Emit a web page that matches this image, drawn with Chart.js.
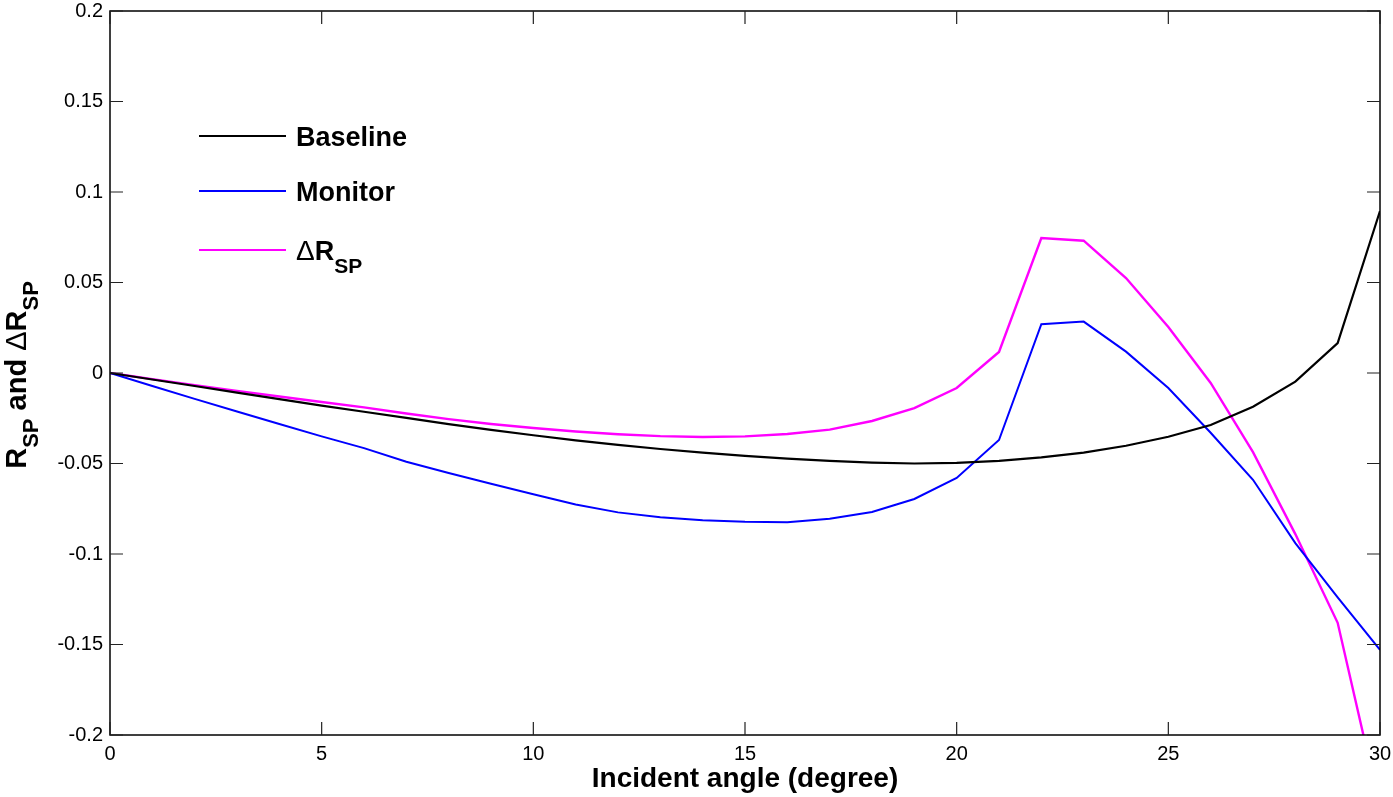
<!DOCTYPE html>
<html>
<head>
<meta charset="utf-8">
<script src="https://cdn.jsdelivr.net/npm/chart.js@4.4.0/dist/chart.umd.min.js"></script>
<style>
  html, body { margin: 0; padding: 0; background: #fff; }
</style>
</head>
<body>
<canvas id="chartSP" width="1393" height="797"></canvas>
<script>
// incident angle in degrees, one sample per degree
const angles = [0,1,2,3,4,5,6,7,8,9,10,11,12,13,14,15,16,17,18,19,20,21,22,23,24,25,26,27,28,29,30];

const baseline = [0,-0.0036,-0.0072,-0.0108,-0.0144,-0.0180,-0.0214,-0.0248,-0.0282,-0.0314,-0.0344,
  -0.0372,-0.0397,-0.0420,-0.0440,-0.0458,-0.0473,-0.0486,-0.0495,-0.0500,-0.0496,
  -0.0486,-0.0466,-0.0440,-0.0402,-0.0352,-0.0287,-0.0186,-0.0048,0.0165,0.0895];

const monitor = [0,-0.0072,-0.0143,-0.0213,-0.0282,-0.0350,-0.0415,-0.0490,-0.0552,-0.0612,-0.0670,
  -0.0727,-0.0770,-0.0797,-0.0813,-0.0822,-0.0824,-0.0805,-0.0768,-0.0696,-0.0580,
  -0.0370,0.0270,0.0284,0.0118,-0.0083,-0.0330,-0.0590,-0.0940,-0.1240,-0.1530];

const deltaRsp = [0,-0.0034,-0.0067,-0.0099,-0.0130,-0.0160,-0.0190,-0.0224,-0.0255,-0.0282,-0.0304,
  -0.0323,-0.0338,-0.0349,-0.0354,-0.0350,-0.0337,-0.0313,-0.0265,-0.0194,-0.0083,
  0.0116,0.0746,0.0731,0.0525,0.0254,-0.0055,-0.0437,-0.0890,-0.1380,-0.2400];

const xTickValues = [0,5,10,15,20,25,30];
const yTickValues = [-0.2,-0.15,-0.1,-0.05,0,0.05,0.1,0.15,0.2];

const FONT = '"Liberation Sans", Arial, sans-serif';

const toPoints = arr => angles.map((a, i) => ({x: a, y: arr[i]}));

// draws a run of text pieces (for subscripts), left to right from x,y baseline
function drawRich(ctx, parts, x, y) {
  let cx = x;
  parts.forEach(p => {
    ctx.font = (p.bold ? 'bold ' : '') + p.size + 'px ' + FONT;
    ctx.fillText(p.t, cx, y + (p.dy || 0));
    cx += ctx.measureText(p.t).width;
  });
  return cx - x;
}
function richWidth(ctx, parts) {
  let w = 0;
  parts.forEach(p => {
    ctx.font = (p.bold ? 'bold ' : '') + p.size + 'px ' + FONT;
    w += ctx.measureText(p.t).width;
  });
  return w;
}

const frameAndText = {
  id: 'frameAndText',
  afterDraw(chart) {
    const {ctx, chartArea: a, scales: {x, y}} = chart;
    ctx.save();
    // box
    ctx.strokeStyle = '#000';
    ctx.lineWidth = 1.5;
    ctx.strokeRect(a.left, a.top, a.right - a.left, a.bottom - a.top);
    // inward ticks on all four sides
    const tl = 13;
    ctx.lineWidth = 1.2;
    ctx.strokeStyle = '#222';
    ctx.beginPath();
    x.ticks.forEach(t => {
      const px = x.getPixelForValue(t.value);
      ctx.moveTo(px, a.bottom); ctx.lineTo(px, a.bottom - tl);
      ctx.moveTo(px, a.top); ctx.lineTo(px, a.top + tl);
    });
    y.ticks.forEach(t => {
      const py = y.getPixelForValue(t.value);
      ctx.moveTo(a.left, py); ctx.lineTo(a.left + tl, py);
      ctx.moveTo(a.right, py); ctx.lineTo(a.right - tl, py);
    });
    ctx.stroke();

    ctx.fillStyle = '#000';
    ctx.textBaseline = 'alphabetic';
    ctx.textAlign = 'left';

    // legend
    const legendRows = [
      {color: '#000000', y: 136, parts: [{t: 'Baseline', size: 27, bold: true}]},
      {color: '#0000ff', y: 191, parts: [{t: 'Monitor', size: 27, bold: true}]},
      {color: '#ff00ff', y: 250, parts: [
        {t: '\u0394', size: 28, bold: false},
        {t: 'R', size: 27, bold: true},
        {t: 'SP', size: 21, bold: true, dy: 13}
      ]}
    ];
    legendRows.forEach(r => {
      ctx.strokeStyle = r.color;
      ctx.lineWidth = 2;
      ctx.beginPath();
      ctx.moveTo(199, r.y); ctx.lineTo(286, r.y);
      ctx.stroke();
      drawRich(ctx, r.parts, 296, r.y + 10);
    });

    // x axis title
    ctx.font = 'bold 28px ' + FONT;
    ctx.textAlign = 'center';
    ctx.fillText('Incident angle (degree)', (a.left + a.right) / 2, 787);

    // y axis title, rotated
    const yParts = [
      {t: 'R', size: 29, bold: true},
      {t: 'SP', size: 22, bold: true, dy: 12},
      {t: ' and ', size: 29, bold: true},
      {t: '\u0394', size: 29, bold: false},
      {t: 'R', size: 29, bold: true},
      {t: 'SP', size: 22, bold: true, dy: 12}
    ];
    ctx.textAlign = 'left';
    ctx.translate(26, 375);
    ctx.rotate(-Math.PI / 2);
    const w = richWidth(ctx, yParts);
    drawRich(ctx, yParts, -w / 2, 0);
    ctx.restore();
  }
};

new Chart(document.getElementById('chartSP').getContext('2d'), {
  type: 'line',
  data: {
    datasets: [
      {label: 'Baseline', data: toPoints(baseline), borderColor: '#000000', borderWidth: 2.2},
      {label: 'Monitor', data: toPoints(monitor), borderColor: '#0000ff', borderWidth: 2},
      {label: '\u0394RSP', data: toPoints(deltaRsp), borderColor: '#ff00ff', borderWidth: 2.4}
    ]
  },
  options: {
    responsive: false,
    animation: false,
    layout: {padding: {top: 11, right: 13, left: 0, bottom: 0}},
    elements: {point: {radius: 0}, line: {tension: 0, fill: false}},
    plugins: {legend: {display: false}, tooltip: {enabled: false}},
    scales: {
      x: {
        type: 'linear', min: 0, max: 30,
        afterBuildTicks: s => { s.ticks = xTickValues.map(v => ({value: v})); },
        afterFit: s => { s.height = 62; s.paddingLeft = 0; s.paddingRight = 0; },
        grid: {display: false, drawTicks: false},
        border: {display: false},
        ticks: {color: '#000', padding: 7, maxRotation: 0, font: {family: FONT, size: 20},
          callback: v => String(v)}
      },
      y: {
        type: 'linear', min: -0.2, max: 0.2,
        afterBuildTicks: s => { s.ticks = yTickValues.map(v => ({value: v})); },
        afterFit: s => { s.width = 110; s.paddingTop = 0; s.paddingBottom = 0; },
        grid: {display: false, drawTicks: false},
        border: {display: false},
        ticks: {color: '#000', padding: 7, font: {family: FONT, size: 20},
          callback: v => String(Number(v.toFixed(2)))}
      }
    }
  },
  plugins: [frameAndText]
});
</script>
</body>
</html>
